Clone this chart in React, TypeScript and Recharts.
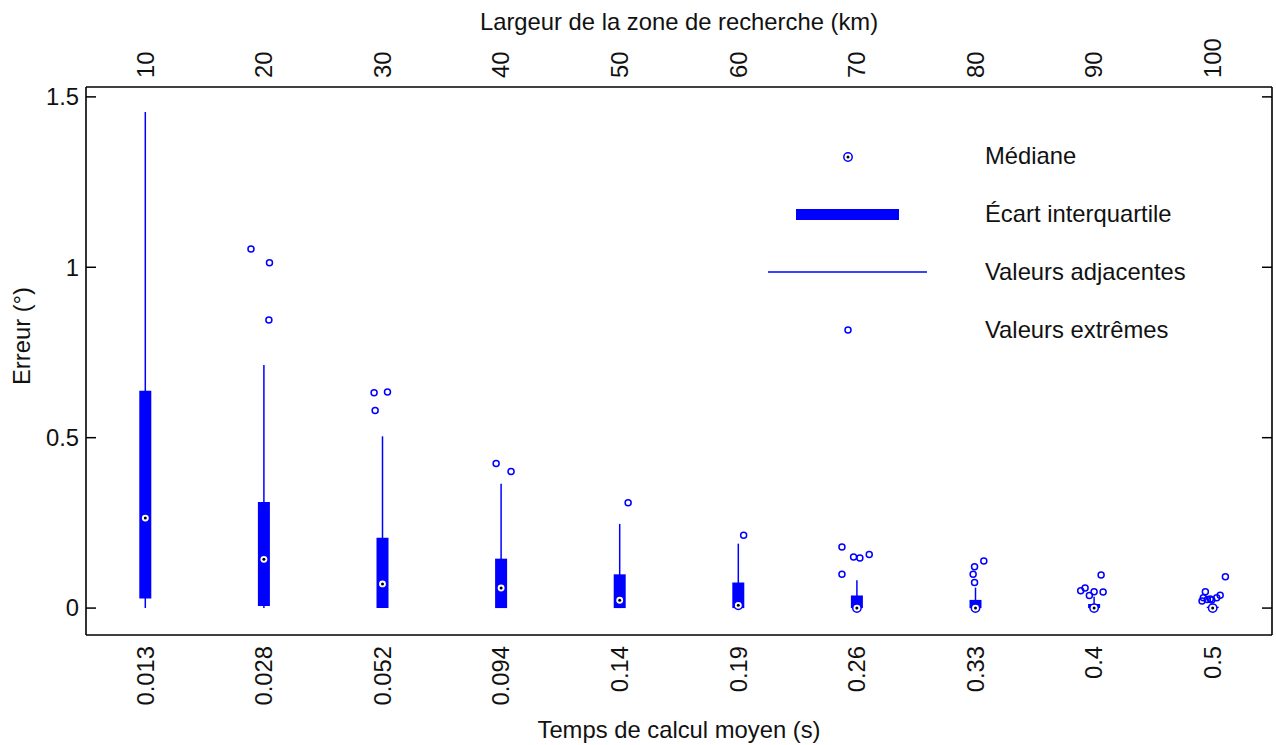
import React from 'react';
import { ComposedChart, Scatter, XAxis, YAxis, ErrorBar, Label } from 'recharts';

// top axis: width of the search zone (km)
const widthsKm = [10, 20, 30, 40, 50, 60, 70, 80, 90, 100];
// bottom axis: mean computation time (s)
const meanTimes = ['0.013', '0.028', '0.052', '0.094', '0.14', '0.19', '0.26', '0.33', '0.4', '0.5'];

// box plot statistics, error in degrees
const whiskerLow = [0, 0, 0, 0, 0, 0, 0, 0, 0, 0];
const quart1 = [0.028, 0.006, 0, 0, 0, 0, 0, 0, 0, 0];
const medians = [0.264, 0.143, 0.071, 0.059, 0.023, 0.008, 0, 0, 0, 0];
const quart3 = [0.638, 0.311, 0.206, 0.145, 0.099, 0.075, 0.037, 0.024, 0.012, 0.004];
const whiskerHigh = [1.456, 0.713, 0.504, 0.365, 0.247, 0.189, 0.082, 0.06, 0.033, 0.006];

// extreme values: group (1..10), horizontal jitter, value
const outlierGroup = [2, 2, 2, 3, 3, 3, 4, 4, 5, 6, 7, 7, 7, 7, 7, 8, 8, 8, 8, 9, 9, 9, 9, 9, 9, 10, 10, 10, 10, 10, 10, 10, 10, 10];
const outlierJitter = [-0.109, 0.047, 0.042, -0.071, 0.042, -0.062, -0.042, 0.084, 0.071, 0.045, -0.126, -0.126, -0.028, 0.025, 0.104, -0.008, -0.02, -0.008, 0.07, -0.113, -0.076, -0.04, 0, 0.076, 0.059, 0.107, 0.063, -0.062, -0.079, -0.09, -0.045, -0.008, 0.034, -0.02];
const outlierValue = [1.054, 1.013, 0.845, 0.632, 0.634, 0.58, 0.424, 0.401, 0.309, 0.214, 0.179, 0.099, 0.15, 0.147, 0.157, 0.075, 0.099, 0.121, 0.138, 0.051, 0.059, 0.037, 0.048, 0.047, 0.097, 0.092, 0.038, 0.048, 0.03, 0.021, 0.025, 0.024, 0.03, 0.027];

const yTicks = [0, 0.5, 1, 1.5];
const xTicks = widthsKm.map((_, i) => i + 1);

const BLUE = '#0000ff';
const INK = '#111';
const FONT = '"Liberation Sans", Arial, Helvetica, sans-serif';
const FS = 23.8;

const boxes = widthsKm.map((_, i) => ({
  x: i + 1,
  y: medians[i],
  adjacent: [medians[i] - whiskerLow[i], whiskerHigh[i] - medians[i]],
  iqr: [medians[i] - quart1[i], quart3[i] - medians[i]],
}));

const extremes = outlierValue.map((v, i) => ({ x: outlierGroup[i] + outlierJitter[i], y: v }));

const Empty = () => <g />;

const MedianDot = (props: any) => (
  <g>
    <circle cx={props.cx} cy={props.cy} r={4.2} fill="#fff" stroke={BLUE} strokeWidth={1.5} />
    <circle cx={props.cx} cy={props.cy} r={1.5} fill="#000" />
  </g>
);

const Ring = (props: any) => (
  <circle cx={props.cx} cy={props.cy} r={3} fill="none" stroke={BLUE} strokeWidth={1.5} />
);

const LeftTick = (props: any) => {
  const { x, y, payload } = props;
  return (
    <g>
      <line x1={x} x2={x + 10} y1={y} y2={y} stroke="#000" strokeWidth={1.5} />
      <text x={x - 7} y={y} dy="0.35em" textAnchor="end" fontSize={FS} fontFamily={FONT} fill={INK}>
        {String(payload.value)}
      </text>
    </g>
  );
};

const RightTick = (props: any) => {
  const { x, y } = props;
  return <line x1={x} x2={x - 10} y1={y} y2={y} stroke="#000" strokeWidth={1.5} />;
};

const BottomTick = (props: any) => {
  const { x, y, payload } = props;
  const ty = y + 11;
  return (
    <text x={x} y={ty} dy="0.35em" textAnchor="end" transform={`rotate(-90, ${x}, ${ty})`}
      fontSize={FS} fontFamily={FONT} fill={INK}>
      {meanTimes[Math.round(payload.value) - 1]}
    </text>
  );
};

const TopTick = (props: any) => {
  const { x, y, payload } = props;
  const ty = y - 9;
  return (
    <text x={x} y={ty} dy="0.35em" textAnchor="start" transform={`rotate(-90, ${x}, ${ty})`}
      fontSize={FS} fontFamily={FONT} fill={INK}>
      {widthsKm[Math.round(payload.value) - 1]}
    </text>
  );
};

const legendText = (y: number, s: string) => (
  <text x={985} y={y} dy="0.35em" fontSize={FS} fontFamily={FONT} fill={INK}>{s}</text>
);

export default function App() {
  const axisLine = { stroke: '#000', strokeWidth: 1.6 };
  return (
    <div style={{ position: 'absolute', left: 0, top: 0, width: 1276, height: 745 }}>
      <ComposedChart width={1276} height={745} margin={{ top: 0, right: 3, bottom: 0, left: 0 }}>
        <XAxis dataKey="x" type="number" domain={[0.5, 10.5]} ticks={xTicks} interval={0} allowDataOverflow
          height={110} axisLine={axisLine} tickLine={false} tickSize={0} tickMargin={0} tick={<BottomTick />}>
          <Label value="Temps de calcul moyen (s)" position="insideBottom" offset={7}
            style={{ fontSize: FS, fontFamily: FONT, fill: INK }} />
        </XAxis>
        <XAxis xAxisId="top" dataKey="x" orientation="top" type="number" domain={[0.5, 10.5]} ticks={xTicks}
          interval={0} allowDataOverflow height={87} axisLine={axisLine} tickLine={false} tickSize={0}
          tickMargin={0} tick={<TopTick />}>
          <Label value="Largeur de la zone de recherche (km)" position="insideTop" offset={13}
            style={{ fontSize: FS, fontFamily: FONT, fill: INK }} />
        </XAxis>
        <YAxis dataKey="y" type="number" domain={[-0.079, 1.529]} ticks={yTicks} allowDataOverflow
          width={86} axisLine={axisLine} tickLine={false} tickSize={0} tickMargin={0} tick={<LeftTick />}>
          <Label content={(p: any) => {
            const vb = p.viewBox;
            const cx = vb.x + 22;
            const cy = vb.y + vb.height / 2 - 25;
            return (
              <text x={cx} y={cy} dy="0.35em" textAnchor="middle" transform={`rotate(-90, ${cx}, ${cy})`}
                fontSize={FS} fontFamily={FONT} fill={INK}>Erreur (°)</text>
            );
          }} />
        </YAxis>
        <YAxis yAxisId="right" orientation="right" type="number" domain={[-0.079, 1.529]} ticks={yTicks}
          allowDataOverflow width={1} axisLine={axisLine} tickLine={false} tickSize={0} tickMargin={0} tick={<RightTick />} />

        <Scatter name="Valeurs adjacentes" data={boxes} shape={Empty} isAnimationActive={false}>
          <ErrorBar dataKey="adjacent" direction="y" width={0} stroke={BLUE} strokeWidth={1.5} isAnimationActive={false} />
        </Scatter>
        <Scatter name="Écart interquartile" data={boxes} shape={Empty} isAnimationActive={false}>
          <ErrorBar dataKey="iqr" direction="y" width={0} stroke={BLUE} strokeWidth={12} isAnimationActive={false} />
        </Scatter>
        <Scatter name="Médiane" xAxisId="top" data={boxes} shape={MedianDot} isAnimationActive={false} />
        <Scatter name="Valeurs extrêmes" data={extremes} shape={Ring} isAnimationActive={false} />
      </ComposedChart>

      <svg width={1276} height={745} style={{ position: 'absolute', left: 0, top: 0, pointerEvents: 'none' }}>
        <circle cx={848} cy={157} r={4.2} fill="#fff" stroke={BLUE} strokeWidth={1.5} />
        <circle cx={848} cy={157} r={1.5} fill="#000" />
        {legendText(156, 'Médiane')}
        <rect x={796} y={209} width={103} height={11} fill={BLUE} />
        {legendText(214, 'Écart interquartile')}
        <line x1={768} x2={927} y1={272} y2={272} stroke={BLUE} strokeWidth={1.5} />
        {legendText(272, 'Valeurs adjacentes')}
        <circle cx={848} cy={330} r={3} fill="none" stroke={BLUE} strokeWidth={1.5} />
        {legendText(330, 'Valeurs extrêmes')}
      </svg>
    </div>
  );
}
